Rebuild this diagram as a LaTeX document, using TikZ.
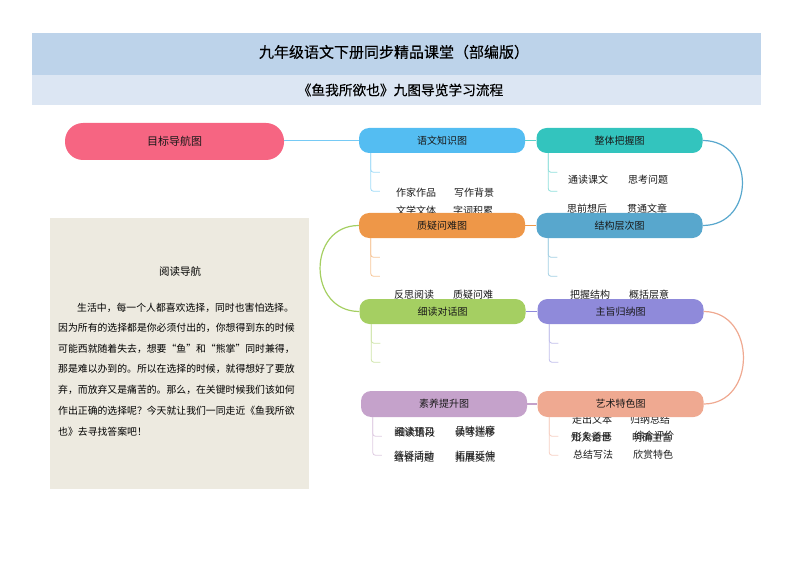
\documentclass[tikz,border=0pt]{standalone}
\usepackage{fontspec}
\usepackage{xcolor}
\setmainfont{Liberation Serif}
\newfontfamily\cjk{Noto Sans CJK SC}
\newfontfamily\cjkheavy[FakeBold=0.35]{Noto Sans CJK SC}
\definecolor{titleblue}{HTML}{BDD3EA}
\definecolor{subblue}{HTML}{DCE6F3}
\definecolor{panelgray}{HTML}{EDEAE0}
\definecolor{goalred}{HTML}{F66582}
\definecolor{yuwenblue}{HTML}{54BDF2}
\definecolor{wholeteal}{HTML}{33C4BE}
\definecolor{doubtorange}{HTML}{EE9748}
\definecolor{layerblue}{HTML}{58A7CD}
\definecolor{readgreen}{HTML}{A5CF62}
\definecolor{themepurple}{HTML}{8F8ADA}
\definecolor{skillmauve}{HTML}{C5A2CB}
\definecolor{artsalmon}{HTML}{EFA991}
\tikzset{
    flowbox/.style={rectangle, rounded corners=10pt, minimum width=166pt, minimum height=25pt, inner sep=0pt, font=\cjk\fontsize{10}{12}\selectfont, text=black!90},
    itemtext/.style={inner sep=0pt, font=\cjk\fontsize{10}{11}\selectfont, text=black!90},
    paneltext/.style={inner sep=0pt, anchor=west, font=\cjk\fontsize{9.85}{11}\selectfont, text=black},
    linkline/.style={line width=1.2pt},
    branchline/.style={line width=0.8pt, rounded corners=2.5pt}
}
\begin{document}
\begin{tikzpicture}[x=1pt,y=-1pt]
    \useasboundingbox (0,0) rectangle (794,561);

    % Title bands
    \fill[titleblue] (32,33) rectangle (761,75);
    \fill[subblue] (32,75) rectangle (761,105);
    \node[font=\cjkheavy\fontsize{15}{16}\selectfont] (maintitle) at (394,52) {九年级语文下册同步精品课堂（部编版）};
    \node[font=\cjkheavy\fontsize{13.7}{15}\selectfont] (subtitle) at (400.5,90) {《鱼我所欲也》九图导览学习流程};

    % Reading panel
    \fill[panelgray] (50,218) rectangle (309,489);
    \node[font=\cjk\fontsize{10.5}{12}\selectfont] (paneltitle) at (180,271) {阅读导航};
    \node[paneltext] (pline1) at (77,308) {生活中，每一个人都喜欢选择，同时也害怕选择。};
    \node[paneltext] (pline2) at (58,328) {因为所有的选择都是你必须付出的，你想得到东的时候};
    \node[paneltext] (pline3) at (58,349) {可能西就随着失去，想要“鱼”和“熊掌”同时兼得，};
    \node[paneltext] (pline4) at (58,369) {那是难以办到的。所以在选择的时候，就得想好了要放};
    \node[paneltext] (pline5) at (58,390) {弃，而放弃又是痛苦的。那么，在关键时候我们该如何};
    \node[paneltext] (pline6) at (58,411) {作出正确的选择呢？今天就让我们一同走近《鱼我所欲};
    \node[paneltext] (pline7) at (58,432) {也》去寻找答案吧！};

    % Item labels, under the boxes
    \foreach \itemname/\px/\py/\itemlabel in {
        a1/416/193/作家作品, a2/474/193/写作背景, a3/416/211/文学文体, a4/473/211/字词积累,
        b1/588/180/通读课文, b2/648/180/思考问题, b3/587/209/思前想后, b4/647/209/贯通文章,
        c1/414/295/反思阅读, c2/473/295/质疑问难,
        d1/590/295/把握结构, d2/649/295/概括层意,
        e1/414/432/阅读预习, e2/415/433/细读语段, e3/475/431/品味揣摩, e4/475/433/读写迁移,
        e5/414/458/结合问题, e6/414/456/答疑活动, e7/475/458/拓展交流, e8/475/456/拓展延伸,
        f1/592/420/走出文本, f2/650/420/归纳总结, f3/591/438/知人论世, f4/592/437/形象善恶,
        f5/652/438/明确主旨, f6/654/436/综合评价, f7/593/455/总结写法, f8/653/455/欣赏特色}{
        \node[itemtext] (\itemname) at (\px,\py) {\itemlabel};
    }

    % Boxes
    \node[flowbox, fill=goalred, minimum width=219pt, minimum height=37pt, rounded corners=18pt, font=\cjk\fontsize{11}{13}\selectfont] (goal) at (174.5,141.5) {目标导航图};
    \node[flowbox, fill=yuwenblue] (yuwen) at (442,140.5) {语文知识图};
    \node[flowbox, fill=wholeteal] (whole) at (619.5,140.5) {整体把握图};
    \node[flowbox, fill=doubtorange] (doubt) at (442,225.5) {质疑问难图};
    \node[flowbox, fill=layerblue] (layer) at (619.5,225.5) {结构层次图};
    \node[flowbox, fill=readgreen] (reading) at (442.5,311.5) {细读对话图};
    \node[flowbox, fill=themepurple] (theme) at (620.5,311.5) {主旨归纳图};
    \node[flowbox, fill=skillmauve, minimum height=26pt] (skill) at (444,404) {素养提升图};
    \node[flowbox, fill=artsalmon, minimum height=26pt] (art) at (620.5,404) {艺术特色图};

    % Links between boxes
    \draw[linkline, yuwenblue!80!white] (goal.east |- yuwen.west) -- (yuwen.west);
    \draw[linkline, wholeteal!80!white] (yuwen.east) -- (whole.west);
    \draw[linkline, doubtorange] (doubt.east) -- (layer.west);
    \draw[linkline, themepurple] (reading.east) -- (theme.west);
    \draw[linkline, skillmauve] (skill.east) -- (art.west);

    % Side arcs
    \draw[linkline, layerblue] (whole.east) .. controls +(53,0) and +(53,0) .. (layer.east);
    \draw[linkline, readgreen] (doubt.west) .. controls +(-52,0) and +(-52,0) .. (reading.west);
    \draw[linkline, artsalmon] (theme.east) .. controls +(53,0) and +(53,0) .. (art.east);

    % Branches under the boxes
    \foreach \boxname/\branchcol in {yuwen/yuwenblue, whole/wholeteal, doubt/doubtorange, layer/layerblue, reading/readgreen, theme/themepurple, skill/skillmauve, art/artsalmon}{
        \coordinate (\boxname top) at ([xshift=12pt]\boxname.south west);
        \coordinate (\boxname tip1) at ([shift={(21,19)}]\boxname.south west);
        \coordinate (\boxname tip2) at ([shift={(21,38)}]\boxname.south west);
        \draw[branchline, \branchcol!55!white] (\boxname top) |- (\boxname tip1);
        \draw[branchline, \branchcol!55!white] (\boxname top) |- (\boxname tip2);
    }
\end{tikzpicture}
\end{document}
